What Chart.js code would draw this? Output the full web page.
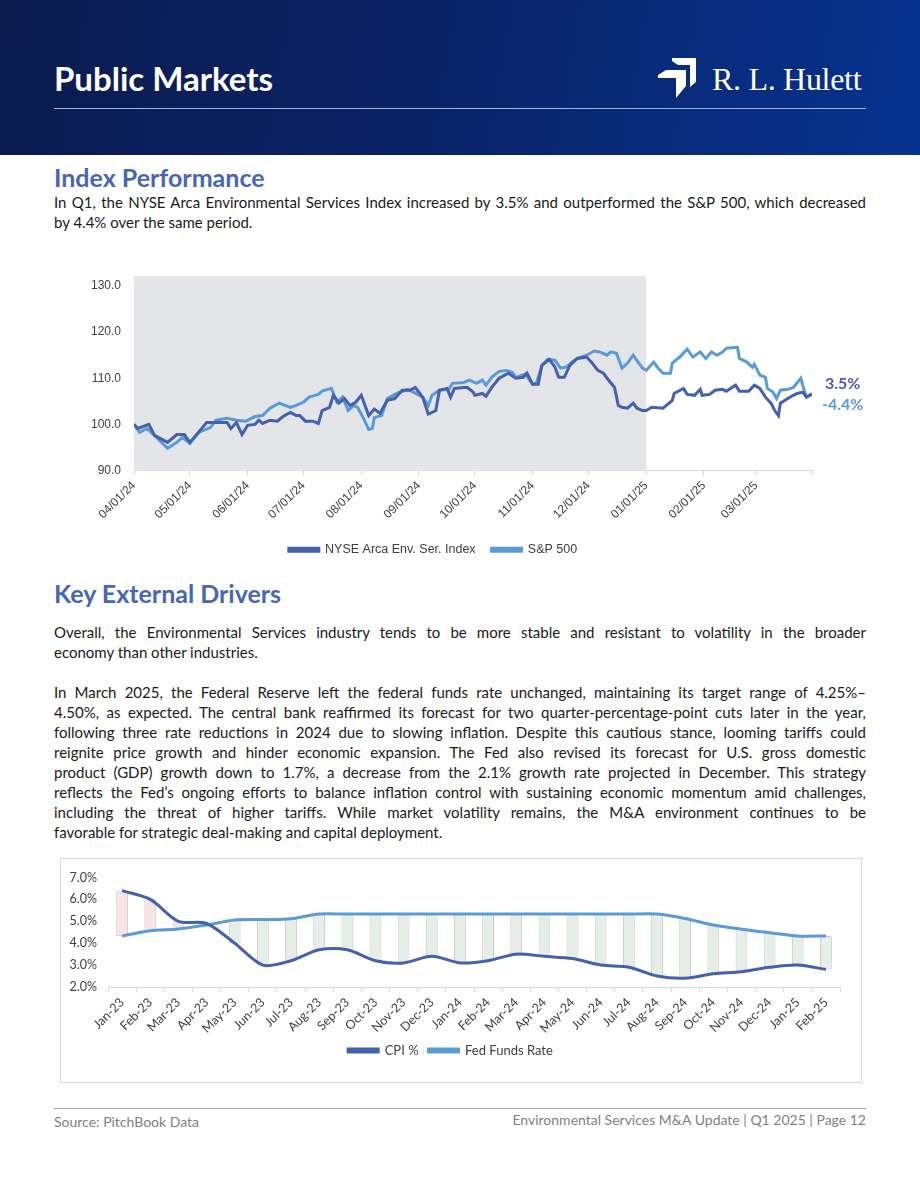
<!DOCTYPE html>
<html>
<head>
<meta charset="utf-8">
<script src="https://cdn.jsdelivr.net/npm/chart.js@4.4.1/dist/chart.umd.min.js"></script>
<style>
  body { margin: 0; width: 920px; height: 1191px; position: relative; background: #fff; font-family: Lato, sans-serif; color: #1a1a1a; overflow: hidden; }
  .header { position: absolute; left: 0; top: 0; width: 920px; height: 155px; background: linear-gradient(100deg, #0b1b4e 0%, #0a2469 50%, #06328f 100%); }
  .title { position: absolute; left: 54px; top: 57px; font-size: 33px; font-weight: 700; color: #fff; line-height: 42px; }
  .rule { position: absolute; left: 54px; top: 108px; width: 812px; height: 1px; background: #9fb3dd; }
  .logo-icon { position: absolute; left: 658px; top: 58px; }
  .logo-text { position: absolute; left: 712px; top: 62px; font-family: "Liberation Serif", serif; font-size: 32px; line-height: 34px; color: #fff; letter-spacing: -0.3px; }
  h2 { position: absolute; left: 54px; margin: 0; font-size: 25px; font-weight: 700; color: #4667b3; line-height: 30px; }
  .ln { position: absolute; left: 54px; width: 812px; font-size: 15px; line-height: 20px; white-space: nowrap; text-align: justify; text-align-last: justify; }
  .ln.last { text-align-last: left; }
  .pct { position: absolute; font-size: 16px; font-weight: 700; line-height: 20px; }
  .box { position: absolute; left: 60px; top: 858px; width: 800px; height: 223px; border: 1px solid #d9d9d9; }
  .foot-rule { position: absolute; left: 54px; top: 1108px; width: 812px; height: 1px; background: #a6a6a6; }
  .foot { position: absolute; top: 1112px; font-size: 14px; line-height: 20px; color: #7f7f7f; }
  canvas { position: absolute; }
</style>
</head>
<body>
<div class="header"></div>
<div class="title">Public Markets</div>
<svg class="logo-icon" width="40" height="41" viewBox="0 0 40 41">
  <polygon fill="#fff" points="14,0 38,0 38,24 32,29 32,7 20,7 14,3"/>
  <polygon fill="#fff" points="0,17 8,12 28,12 28,28 18,40 18,20 0,20"/>
</svg>
<div class="logo-text">R. L. Hulett</div>
<div class="rule"></div>

<h2 style="top:162px">Index Performance</h2>
<div class="ln" style="top:192px">In Q1, the NYSE Arca Environmental Services Index increased by 3.5% and outperformed the S&amp;P 500, which decreased</div>
<div class="ln last" style="top:212px">by 4.4% over the same period.</div>

<canvas id="indexChart" width="812" height="304" style="left:54px; top:262px"></canvas>
<div class="pct" style="left:825px; top:373px; color:#4461ad">3.5%</div>
<div class="pct" style="left:822px; top:394px; color:#5b9bd5">-4.4%</div>

<h2 style="top:578px">Key External Drivers</h2>
<div class="ln" style="top:622px">Overall, the Environmental Services industry tends to be more stable and resistant to volatility in the broader</div>
<div class="ln last" style="top:642px">economy than other industries.</div>

<div class="ln" style="top:682px">In March 2025, the Federal Reserve left the federal funds rate unchanged, maintaining its target range of 4.25%–</div>
<div class="ln" style="top:702px">4.50%, as expected. The central bank reaffirmed its forecast for two quarter-percentage-point cuts later in the year,</div>
<div class="ln" style="top:722px">following three rate reductions in 2024 due to slowing inflation. Despite this cautious stance, looming tariffs could</div>
<div class="ln" style="top:742px">reignite price growth and hinder economic expansion. The Fed also revised its forecast for U.S. gross domestic</div>
<div class="ln" style="top:762px">product (GDP) growth down to 1.7%, a decrease from the 2.1% growth rate projected in December. This strategy</div>
<div class="ln" style="top:782px">reflects the Fed’s ongoing efforts to balance inflation control with sustaining economic momentum amid challenges,</div>
<div class="ln" style="top:802px">including the threat of higher tariffs. While market volatility remains, the M&amp;A environment continues to be</div>
<div class="ln last" style="top:822px">favorable for strategic deal-making and capital deployment.</div>

<div class="box"></div>
<canvas id="rateChart" width="799" height="222" style="left:61px; top:859px"></canvas>

<div class="foot-rule"></div>
<div class="foot" style="left:54px">Source: PitchBook Data</div>
<div class="foot" style="right:54px; top:1110px">Environmental Services M&amp;A Update | Q1 2025 | Page 12</div>

<script>
// --- index performance (days counted from 04/01/24) ---
const monthTickDays = [0, 30, 61, 91, 122, 153, 183, 214, 244, 275, 306, 334, 364];
const monthTickLabels = ["04/01/24", "05/01/24", "06/01/24", "07/01/24", "08/01/24", "09/01/24",
  "10/01/24", "11/01/24", "12/01/24", "01/01/25", "02/01/25", "03/01/25", ""];
const shadeEndDay = 275;

const nyseDays = [0, 2, 8, 11, 18, 23, 27, 30, 34, 39, 45, 50, 52, 55, 58, 61, 65, 67, 69, 73, 77, 80, 84, 87,
  89, 92, 96, 99, 101, 105, 107, 110, 113, 116, 119, 122, 126, 129, 132, 136, 140, 144, 148, 151, 155, 158,
  162, 164, 168, 170, 172, 177, 179, 182, 183, 187, 189, 192, 196, 201, 205, 209, 211, 214, 217, 219, 223,
  226, 228, 231, 234, 238, 243, 246, 249, 252, 254, 258, 260, 262, 265, 268, 270, 273, 275, 278, 284, 289,
  290, 295, 297, 301, 304, 305, 309, 312, 316, 318, 323, 325, 330, 333, 336, 339, 342, 344, 346, 347, 351,
  354, 356, 359, 361, 364];
const nyseValues = [100.0, 99.1, 100.0, 97.6, 96.1, 97.8, 97.8, 96.1, 98.0, 100.4, 100.4, 100.4, 99.1, 100.4,
  97.8, 99.8, 100.0, 100.9, 100.2, 100.9, 100.7, 101.7, 102.6, 101.9, 101.9, 100.7, 100.7, 100.2, 103.0,
  103.7, 106.3, 104.6, 105.6, 104.1, 104.8, 106.3, 101.9, 103.3, 102.4, 105.2, 105.6, 107.4, 107.4, 108.0,
  105.9, 102.2, 103.0, 107.4, 107.8, 105.9, 107.8, 108.0, 108.0, 107.0, 106.3, 106.7, 106.1, 108.0, 110.0,
  111.1, 110.0, 110.2, 111.1, 108.7, 108.7, 112.8, 114.1, 112.4, 110.2, 110.2, 112.8, 114.3, 114.6, 113.3,
  111.7, 111.1, 110.0, 108.0, 104.1, 103.7, 103.5, 104.6, 103.5, 103.0, 103.0, 103.7, 103.5, 105.2, 106.7,
  107.8, 106.5, 106.3, 107.6, 106.3, 106.5, 107.4, 107.6, 107.2, 108.5, 107.2, 107.2, 108.5, 107.8, 105.9,
  104.6, 103.0, 101.9, 104.6, 105.6, 106.3, 106.7, 107.0, 105.9, 106.5];

const spDays = [0, 3, 7, 11, 18, 23, 26, 30, 35, 41, 44, 50, 55, 60, 65, 69, 73, 78, 84, 87, 91, 94, 99, 101,
  106, 109, 112, 115, 118, 120, 123, 126, 128, 129, 133, 136, 141, 147, 150, 155, 158, 160, 164, 169, 171,
  177, 180, 184, 187, 189, 192, 196, 200, 203, 205, 210, 214, 216, 219, 222, 226, 229, 232, 235, 238, 243,
  247, 250, 254, 256, 259, 262, 265, 268, 271, 273, 275, 279, 281, 284, 288, 289, 293, 297, 300, 304, 307,
  310, 313, 316, 318, 324, 325, 329, 332, 333, 336, 339, 340, 343, 345, 347, 351, 354, 358, 359, 361, 364];
const spValues = [100.0, 98.3, 99.1, 97.6, 94.8, 96.1, 97.2, 95.9, 98.3, 99.3, 100.9, 101.3, 100.9, 100.7,
  101.7, 101.9, 103.5, 104.6, 103.7, 104.1, 104.8, 105.9, 106.5, 107.2, 107.8, 104.8, 105.9, 103.0, 104.1,
  103.7, 101.5, 98.9, 99.1, 101.5, 101.9, 105.6, 106.7, 107.6, 107.0, 105.9, 104.1, 106.3, 107.4, 107.6,
  108.9, 109.1, 109.6, 108.9, 109.6, 108.5, 110.2, 111.5, 111.7, 111.3, 110.2, 110.9, 108.7, 108.9, 112.8,
  114.1, 113.9, 112.2, 112.4, 113.5, 114.3, 115.0, 115.9, 115.7, 115.0, 115.7, 115.4, 112.2, 113.3, 115.0,
  113.3, 112.2, 111.7, 113.5, 112.4, 111.1, 111.1, 113.3, 114.6, 116.3, 114.6, 115.7, 114.3, 115.7, 115.0,
  115.7, 116.5, 116.7, 114.3, 113.5, 112.4, 113.0, 110.7, 110.2, 107.8, 107.0, 105.6, 107.4, 107.6, 108.0,
  110.0, 108.5, 105.9, 106.7];

// --- CPI vs fed funds ---
const months = ["Jan-23", "Feb-23", "Mar-23", "Apr-23", "May-23", "Jun-23", "Jul-23", "Aug-23", "Sep-23",
  "Oct-23", "Nov-23", "Dec-23", "Jan-24", "Feb-24", "Mar-24", "Apr-24", "May-24", "Jun-24", "Jul-24",
  "Aug-24", "Sep-24", "Oct-24", "Nov-24", "Dec-24", "Jan-25", "Feb-25"];
const cpiValues = [6.4, 6.0, 5.0, 4.9, 4.0, 3.0, 3.2, 3.7, 3.7, 3.2, 3.1, 3.4, 3.1, 3.2, 3.5, 3.4, 3.3, 3.0,
  2.9, 2.5, 2.4, 2.6, 2.7, 2.9, 3.0, 2.8];
const fedValues = [4.33, 4.57, 4.65, 4.83, 5.06, 5.08, 5.12, 5.33, 5.33, 5.33, 5.33, 5.33, 5.33, 5.33, 5.33,
  5.33, 5.33, 5.33, 5.33, 5.33, 5.13, 4.83, 4.64, 4.48, 4.33, 4.33];

const inkDark = "#4461ad";
const inkLight = "#5b9bd5";
const tickInk = "#404040";

// squeeze any justified line that is too long for the column
document.querySelectorAll(".ln").forEach((line) => {
  let size = 15;
  while (line.scrollWidth > line.clientWidth && size > 12) {
    size -= 0.1;
    line.style.fontSize = `${size}px`;
  }
});

// grey band behind the 2024 part of the index chart
const shadePlugin = {
  id: "shade2024",
  beforeDatasetsDraw(chart) {
    const { ctx, chartArea, scales } = chart;
    const right = scales.x.getPixelForValue(shadeEndDay);
    ctx.save();
    ctx.fillStyle = "#e4e5e8";
    ctx.fillRect(chartArea.left, chartArea.top - 10, right - chartArea.left, chartArea.bottom - chartArea.top + 10);
    ctx.restore();
  },
};

function toPoints(days, values) {
  return days.map((d, i) => ({ x: d, y: values[i] }));
}

new Chart(document.getElementById("indexChart"), {
  type: "line",
  data: {
    datasets: [
      {
        label: "NYSE Arca Env. Ser. Index",
        data: toPoints(nyseDays, nyseValues),
        borderColor: inkDark,
        backgroundColor: inkDark,
        borderWidth: 3,
        pointRadius: 0,
        tension: 0,
      },
      {
        label: "S&P 500",
        data: toPoints(spDays, spValues),
        borderColor: inkLight,
        backgroundColor: inkLight,
        borderWidth: 3,
        pointRadius: 0,
        tension: 0,
      },
    ],
  },
  options: {
    responsive: false,
    animation: false,
    layout: { padding: { top: 24, right: 54, left: 0, bottom: 0 } },
    plugins: {
      tooltip: { enabled: false },
      legend: {
        position: "bottom",
        labels: {
          boxWidth: 30,
          boxHeight: 3,
          padding: 16,
          color: tickInk,
          font: { family: "Liberation Sans", size: 12.5 },
        },
      },
    },
    scales: {
      x: {
        type: "linear",
        min: 0,
        max: 364,
        afterBuildTicks: (scale) => {
          scale.ticks = monthTickDays.map((v) => ({ value: v }));
        },
        afterFit: (scale) => { scale.height = 57; },
        ticks: {
          autoSkip: false,
          minRotation: 45,
          maxRotation: 45,
          color: tickInk,
          font: { family: "Liberation Sans", size: 12 },
          callback: (value) => monthTickLabels[monthTickDays.indexOf(value)],
        },
        grid: { drawOnChartArea: false, tickLength: 5, color: "#d9d9d9" },
        border: { color: "#d9d9d9" },
      },
      y: {
        min: 90,
        max: 130,
        afterFit: (scale) => { scale.width = 80; },
        ticks: {
          stepSize: 10,
          padding: 13,
          color: tickInk,
          font: { family: "Liberation Sans", size: 12 },
          callback: (v) => v.toFixed(1),
        },
        grid: { display: false, drawTicks: false },
        border: { display: false },
      },
    },
  },
  plugins: [shadePlugin],
});

new Chart(document.getElementById("rateChart"), {
  type: "bar",
  data: {
    labels: months,
    datasets: [
      {
        type: "line",
        label: "CPI %",
        data: cpiValues,
        borderColor: inkDark,
        backgroundColor: inkDark,
        borderWidth: 3,
        pointRadius: 0,
        tension: 0.3,
        order: 0,
      },
      {
        type: "line",
        label: "Fed Funds Rate",
        data: fedValues,
        borderColor: inkLight,
        backgroundColor: inkLight,
        borderWidth: 3,
        pointRadius: 0,
        tension: 0.3,
        order: 0,
      },
      {
        label: "Spread",
        data: cpiValues.map((c, i) => [c, fedValues[i]]),
        backgroundColor: cpiValues.map((c, i) => (c > fedValues[i] ? "#f4e4e6" : "#e6eee8")),
        borderColor: cpiValues.map((c, i) => (c > fedValues[i] ? "#dccbd3" : "#c9cccc")),
        borderWidth: 1,
        borderSkipped: false,
        barPercentage: 0.42,
        categoryPercentage: 1,
        order: 1,
      },
    ],
  },
  options: {
    responsive: false,
    animation: false,
    layout: { padding: { top: 16, right: 20, left: 0, bottom: 14 } },
    plugins: {
      tooltip: { enabled: false },
      legend: {
        position: "bottom",
        labels: {
          boxWidth: 30,
          boxHeight: 3,
          color: tickInk,
          font: { family: "Lato", size: 13 },
          filter: (item) => item.datasetIndex !== 2,
        },
      },
    },
    scales: {
      x: {
        afterFit: (scale) => { scale.height = 47; },
        ticks: {
          autoSkip: false,
          minRotation: 45,
          maxRotation: 45,
          color: tickInk,
          font: { family: "Lato", size: 12.5 },
        },
        grid: { drawOnChartArea: false, tickLength: 5, color: "#d9d9d9", offset: true },
        border: { color: "#d9d9d9" },
      },
      y: {
        min: 2,
        max: 7,
        afterFit: (scale) => { scale.width = 47; },
        ticks: {
          stepSize: 1,
          padding: 11,
          color: tickInk,
          font: { family: "Lato", size: 12.5 },
          callback: (v) => v.toFixed(1) + "%",
        },
        grid: { display: false, drawTicks: false },
        border: { display: false },
      },
    },
  },
});
</script>
</body>
</html>
